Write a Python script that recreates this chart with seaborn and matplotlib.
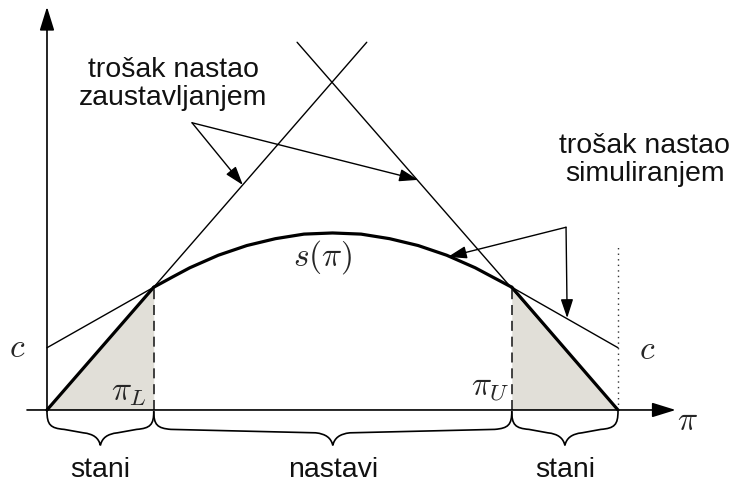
import numpy as np
import pandas as pd
import matplotlib
matplotlib.use("Agg")
import matplotlib.pyplot as plt
import seaborn as sns
from matplotlib.path import Path
from matplotlib.patches import PathPatch, FancyArrowPatch, ArrowStyle

# ---------------- data ----------------
pi_L = 0.187
pi_U = 0.814
s_pi = [0.187, 0.22, 0.25, 0.30, 0.35, 0.40, 0.45, 0.50, 0.55, 0.60, 0.65, 0.70, 0.75, 0.78, 0.814]
s_val = [0.215, 0.233, 0.249, 0.271, 0.288, 0.300, 0.308, 0.310, 0.308, 0.300, 0.288, 0.271, 0.249, 0.233, 0.215]
stop_left_pi = [0.0, 0.187, 0.560]
stop_left_val = [0.0, 0.215, 0.644]
stop_right_pi = [1.0, 0.814, 0.438]
stop_right_val = [0.0, 0.215, 0.644]
sim_left_pi = [0.0, 0.187]
sim_left_val = [0.109, 0.215]
sim_right_pi = [0.814, 1.0]
sim_right_val = [0.215, 0.109]
region_bounds = [0.0, 0.187, 0.814, 1.0]
region_labels = ["stani", "nastavi", "stani"]

# ---------------- figure ----------------
sns.set_theme(style="white")
plt.rcParams['font.family'] = ['Liberation Sans', 'DejaVu Sans']
plt.rcParams['mathtext.fontset'] = 'cm'

fig = plt.figure(figsize=(7.31, 4.93), dpi=100)
ax = fig.add_axes([0, 0, 1, 1])
ax.set_xlim(-0.0823, 1.1979)
ax.set_ylim(-0.1454, 0.7180)
ax.axis('off')

shade = '#e1dfd8'
# shaded stop regions
ax.fill_between([stop_left_pi[0], stop_left_pi[1]], [0, 0], [stop_left_val[0], stop_left_val[1]],
                color=shade, lw=0, zorder=1)
ax.fill_between([stop_right_pi[1], stop_right_pi[0]], [0, 0], [stop_right_val[1], stop_right_val[0]],
                color=shade, lw=0, zorder=1)

thin = 1.0
thick = 2.3
# thin full stop-cost lines
sns.lineplot(x=[stop_left_pi[0], stop_left_pi[2]], y=[stop_left_val[0], stop_left_val[2]],
             ax=ax, color='black', lw=thin, sort=False, zorder=3)
sns.lineplot(x=[stop_right_pi[0], stop_right_pi[2]], y=[stop_right_val[0], stop_right_val[2]],
             ax=ax, color='black', lw=thin, sort=False, zorder=3)
# simulation-cost tangent lines
sns.lineplot(x=sim_left_pi, y=sim_left_val, ax=ax, color='black', lw=thin, sort=False, zorder=3)
sns.lineplot(x=sim_right_pi, y=sim_right_val, ax=ax, color='black', lw=thin, sort=False, zorder=3)
# thick value curve
sns.lineplot(x=stop_left_pi[:2], y=stop_left_val[:2], ax=ax, color='black', lw=thick, sort=False, zorder=4)
sns.lineplot(x=stop_right_pi[:2], y=stop_right_val[:2], ax=ax, color='black', lw=thick, sort=False, zorder=4)
sns.lineplot(x=s_pi, y=s_val, ax=ax, color='black', lw=thick, sort=False, zorder=4)

# dashed thresholds
ax.plot([pi_L, pi_L], [0, stop_left_val[1]], color='#222222', lw=1.2, dashes=(6, 3.5), zorder=3)
ax.plot([pi_U, pi_U], [0, stop_right_val[1]], color='#222222', lw=1.2, dashes=(6, 3.5), zorder=3)
# dotted line at pi = 1
ax.plot([region_bounds[-1], region_bounds[-1]], [0, 0.29], color='#333333', lw=1.0, dashes=(1, 3), zorder=3)

# axes with arrows
def arrow(p0, p1, hl, hw, lw=1.2):
    a = FancyArrowPatch(p0, p1, arrowstyle=ArrowStyle("-|>", head_length=hl, head_width=hw),
                        mutation_scale=10, color='black', lw=lw, shrinkA=0, shrinkB=0, zorder=5)
    ax.add_patch(a)

arrow((-0.035, 0), (1.101, 0), 1.45, 0.45)
arrow((0, -0.002), (0, 0.706), 1.45, 0.45)

# annotation arrows
zo = (0.254, 0.503)
arrow(zo, (0.343, 0.394), 1.15, 0.38, lw=1.0)
arrow(zo, (0.650, 0.403), 1.15, 0.38, lw=1.0)
so = (0.909, 0.320)
arrow(so, (0.702, 0.268), 1.15, 0.38, lw=1.0)
arrow(so, (0.911, 0.161), 1.15, 0.38, lw=1.0)

# braces
def brace(x0, x1, d=0.062):
    xm = (x0 + x1) / 2.0
    r = 0.03
    verts = [(x0, -0.002),
             (x0, -0.026), (x0 + 0.006, -0.032), (x0 + r, -0.034),
             (xm - r, -0.040),
             (xm - 0.012, -0.042), (xm - 0.003, -0.049), (xm, -d),
             (xm + 0.003, -0.049), (xm + 0.012, -0.042), (xm + r, -0.040),
             (x1 - r, -0.034),
             (x1 - 0.006, -0.032), (x1, -0.026), (x1, -0.002)]
    codes = [Path.MOVETO, Path.CURVE4, Path.CURVE4, Path.CURVE4, Path.LINETO,
             Path.CURVE4, Path.CURVE4, Path.CURVE4, Path.CURVE4, Path.CURVE4, Path.CURVE4,
             Path.LINETO, Path.CURVE4, Path.CURVE4, Path.CURVE4]
    ax.add_patch(PathPatch(Path(verts, codes), fill=False, lw=1.2, color='black', zorder=5))

for i, lab in enumerate(region_labels):
    brace(region_bounds[i], region_bounds[i + 1])
    ax.text((region_bounds[i] + region_bounds[i + 1]) / 2, -0.105, lab,
            ha='center', va='center', fontsize=20.5, color='#111111')

# text labels
ax.text(0.221, 0.571, "trošak nastao\nzaustavljanjem", ha='center', va='center',
        fontsize=20.5, linespacing=1.1, color='#111111')
ax.text(1.047, 0.438, "trošak nastao\nsimuliranjem", ha='center', va='center',
        fontsize=20.5, linespacing=1.1, color='#111111')
ax.text(-0.053, 0.107, r"$c$", ha='center', va='center', fontsize=24)
ax.text(1.051, 0.105, r"$c$", ha='center', va='center', fontsize=24)
ax.text(0.483, 0.268, r"$s(\pi)$", ha='center', va='center', fontsize=24)
ax.text(0.176, 0.030, r"$\pi_L$", ha='right', va='center', fontsize=24)
ax.text(0.811, 0.039, r"$\pi_U$", ha='right', va='center', fontsize=24)
ax.text(1.121, -0.021, r"$\pi$", ha='center', va='center', fontsize=24)

fig.savefig("out.png", dpi=100, facecolor='white')
